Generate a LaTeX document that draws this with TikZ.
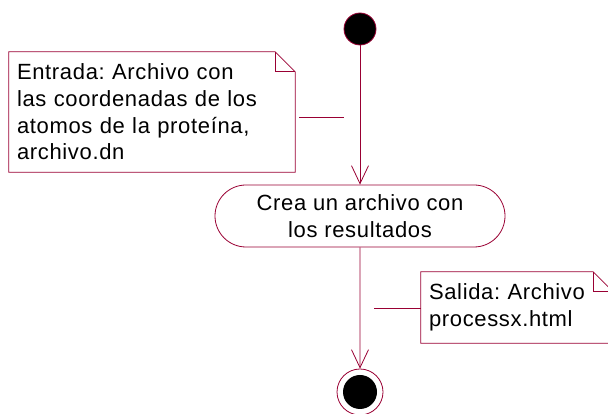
\documentclass[tikz,border=0pt]{standalone}
\usepackage{fontspec}
\setmainfont{Liberation Sans}[LetterSpace = 3]
\usetikzlibrary{shapes.misc, arrows.meta}
\definecolor{umlred}{RGB}{153,0,51}
\frenchspacing
% outline of a note with folded corner
\newcommand{\notaborde}[1]{
    \draw[umlred, line width = 0.8pt] (#1.north west) -- ([xshift = -20pt]#1.north east) -- ([yshift = -20pt]#1.north east) -- (#1.south east) -- (#1.south west) -- cycle;
    \draw[umlred, line width = 0.8pt] ([xshift = -20pt]#1.north east) |- ([yshift = -20pt]#1.north east);
}
\begin{document}
\begin{tikzpicture}[x = 1pt, y = 1pt,
                nota/.style = {inner sep = 8pt, align = left, font = \fontsize{22}{26.7}\selectfont},
                flecha/.style = {draw = umlred, line width = 0.8pt, -{Straight Barb[length = 18pt, width = 17pt]}}]
                \useasboundingbox (0, 0) rectangle (608, 414);
                \node[circle, fill = black, draw = umlred, line width = 0.8pt, minimum size = 32pt, inner sep = 0pt] (inicio) at (360, 385) {};
                \node[rounded rectangle, draw = umlred, line width = 0.8pt, minimum width = 294pt, minimum height = 62pt, inner sep = 2pt, align = center, font = \fontsize{22}{27}\selectfont] (crea) at (360, 198) {Crea un archivo con\\los resultados};
                \node[circle, draw = umlred, line width = 0.8pt, minimum size = 46pt, inner sep = 0pt] (fin) at (360, 22) {};
                \node[circle, fill = black, minimum size = 34pt, inner sep = 0pt] (finpunto) at (fin) {};
                \node[nota, text width = 270pt, minimum height = 120pt] (entrada) at (152, 302) {Entrada: Archivo con\\las coordenadas de los\\atomos de la proteína,\\archivo.dn};
                \node[nota, text width = 176pt, minimum height = 71pt] (salida) at (517, 106.5) {Salida: Archivo\\processx.html};
                \notaborde{entrada}
                \notaborde{salida}
                \coordinate (c1) at (344, 297);
                \coordinate (c2) at (374, 106);
                \draw[umlred, line width = 0.8pt] ([xshift = 4pt]entrada.east |- c1) -- (c1);
                \draw[umlred, line width = 0.8pt] (salida.west |- c2) -- (c2);
                \draw[flecha] (inicio) -- (crea);
                \draw[flecha] (crea) -- (fin);
            \end{tikzpicture}
\end{document}
